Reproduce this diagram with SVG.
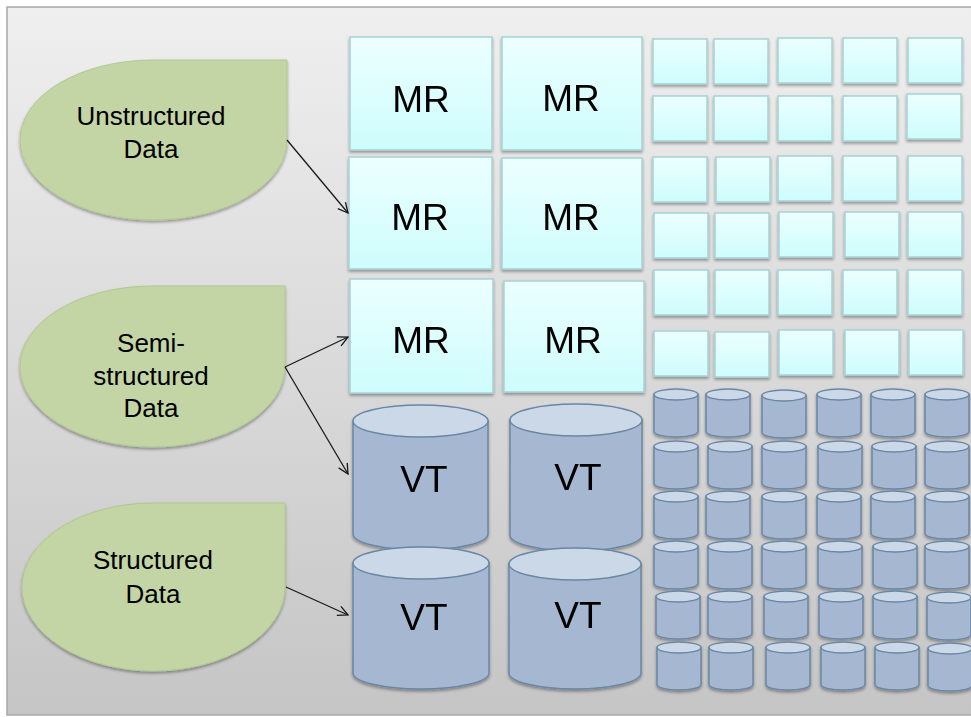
<svg xmlns="http://www.w3.org/2000/svg" xmlns:xlink="http://www.w3.org/1999/xlink" width="971" height="717" viewBox="0 0 971 717">
<style>
.drop{fill:#c4d5a5;stroke:#b2c78f;stroke-width:1}
.lbl{font-family:"Liberation Sans",Arial,sans-serif;font-size:26px;fill:#000;text-anchor:middle}
.big{font-family:"Liberation Sans",Arial,sans-serif;font-size:37px;fill:#000;text-anchor:middle}
.box{fill:url(#cyanG);stroke:#a6d2d4;stroke-width:1.5}
.cb{fill:#a6b8d1;stroke:#6a86a5;stroke-width:1.5}
.ct{fill:#cbd8e7;stroke:#6a86a5;stroke-width:1.5}
.conn{stroke:#1a1a1a;stroke-width:1.3;fill:none;marker-end:url(#arr)}
</style>
<defs>
<linearGradient id="bgG" x1="0" y1="0" x2="0" y2="1">
<stop offset="0" stop-color="#efefef"/>
<stop offset="1" stop-color="#c5c5c5"/>
</linearGradient>
<linearGradient id="cyanG" x1="0" y1="0" x2="0" y2="1">
<stop offset="0" stop-color="#ecffff"/>
<stop offset="1" stop-color="#cefcfc"/>
</linearGradient>
<filter id="sh" x="-20%" y="-20%" width="140%" height="150%">
<feDropShadow dx="0" dy="2" stdDeviation="1.5" flood-color="#000" flood-opacity="0.35"/>
</filter>
<marker id="arr" viewBox="0 0 12 12" refX="11" refY="6" markerWidth="12" markerHeight="12" markerUnits="userSpaceOnUse" orient="auto">
<path d="M1,1 L11,6 L1,11" fill="none" stroke="#1a1a1a" stroke-width="1.3"/>
</marker>
<g id="scyl">
<path class="cb" d="M0,5.5 L0,42.5 A22,5.5 0 0 0 44,42.5 L44,5.5 Z"/>
<ellipse class="ct" cx="22" cy="5.5" rx="22" ry="5.5"/>
</g>
<rect id="sbox" class="box" x="0" y="0" width="54" height="45"/>
</defs>

<rect x="7" y="7" width="975" height="708" fill="url(#bgG)" stroke="#a8a8a8" stroke-width="1.5"/>

<g id="src-unstructured">
<path class="drop" filter="url(#sh)" d="M287,60 L287,140 A133.5,80 0 0 1 153.5,220 A133.5,80 0 0 1 20,140 A133.5,80 0 0 1 153.5,60 Z"/>
<text class="lbl" x="151" y="125">Unstructured</text>
<text class="lbl" x="151" y="158">Data</text>
</g>
<g id="src-semi">
<path class="drop" filter="url(#sh)" d="M285,286 L285,366.5 A132.5,80.5 0 0 1 152.5,447 A132.5,80.5 0 0 1 20,366.5 A132.5,80.5 0 0 1 152.5,286 Z"/>
<text class="lbl" x="151" y="352">Semi-</text>
<text class="lbl" x="151" y="385">structured</text>
<text class="lbl" x="151" y="417">Data</text>
</g>
<g id="src-structured">
<path class="drop" filter="url(#sh)" d="M285,503 L285,587 A131.5,84 0 0 1 153.5,671 A131.5,84 0 0 1 22,587 A131.5,84 0 0 1 153.5,503 Z"/>
<text class="lbl" x="153" y="569">Structured</text>
<text class="lbl" x="153" y="603">Data</text>
</g>

<g id="mr1" filter="url(#sh)"><rect class="box" x="350" y="37" width="142" height="113"/><text class="big" x="421" y="112">MR</text></g>
<g id="mr2" filter="url(#sh)"><rect class="box" x="502" y="37" width="140" height="113"/><text class="big" x="571" y="111">MR</text></g>
<g id="mr3" filter="url(#sh)"><rect class="box" x="349" y="157" width="143" height="112"/><text class="big" x="420" y="230">MR</text></g>
<g id="mr4" filter="url(#sh)"><rect class="box" x="502" y="158" width="140" height="111"/><text class="big" x="571" y="230">MR</text></g>
<g id="mr5" filter="url(#sh)"><rect class="box" x="350" y="279" width="143" height="114"/><text class="big" x="421" y="353">MR</text></g>
<g id="mr6" filter="url(#sh)"><rect class="box" x="504" y="281" width="140" height="111"/><text class="big" x="573" y="353">MR</text></g>

<g id="vt1" filter="url(#sh)">
<path class="cb" d="M353,421 L353,534 A67.5,16 0 0 0 488,534 L488,421 Z"/>
<ellipse class="ct" cx="420.5" cy="421" rx="67.5" ry="16"/>
<text class="big" x="424" y="492">VT</text>
</g>
<g id="vt2" filter="url(#sh)">
<path class="cb" d="M510,420 L510,535 A66,16 0 0 0 642,535 L642,420 Z"/>
<ellipse class="ct" cx="576" cy="420" rx="66" ry="16"/>
<text class="big" x="578" y="490">VT</text>
</g>
<g id="vt3" filter="url(#sh)">
<path class="cb" d="M353,563 L353,673 A68,16 0 0 0 489,673 L489,563 Z"/>
<ellipse class="ct" cx="421" cy="563" rx="68" ry="16"/>
<text class="big" x="424" y="630">VT</text>
</g>
<g id="vt4" filter="url(#sh)">
<path class="cb" d="M509,564 L509,673 A66,16 0 0 0 641,673 L641,564 Z"/>
<ellipse class="ct" cx="575" cy="564" rx="66" ry="16"/>
<text class="big" x="578" y="628">VT</text>
</g>

<g id="small-boxes" filter="url(#sh)">
<g id="sb-1-1"><use xlink:href="#sbox" x="653" y="39"/></g>
<g id="sb-1-2"><use xlink:href="#sbox" x="714" y="39"/></g>
<g id="sb-1-3"><use xlink:href="#sbox" x="778" y="38"/></g>
<g id="sb-1-4"><use xlink:href="#sbox" x="843" y="38"/></g>
<g id="sb-1-5"><use xlink:href="#sbox" x="908" y="38"/></g>
<g id="sb-2-1"><use xlink:href="#sbox" x="653" y="96"/></g>
<g id="sb-2-2"><use xlink:href="#sbox" x="714" y="96"/></g>
<g id="sb-2-3"><use xlink:href="#sbox" x="778" y="96"/></g>
<g id="sb-2-4"><use xlink:href="#sbox" x="843" y="96"/></g>
<g id="sb-2-5"><use xlink:href="#sbox" x="907" y="94"/></g>
<g id="sb-3-1"><use xlink:href="#sbox" x="653" y="157"/></g>
<g id="sb-3-2"><use xlink:href="#sbox" x="716" y="157"/></g>
<g id="sb-3-3"><use xlink:href="#sbox" x="778" y="156"/></g>
<g id="sb-3-4"><use xlink:href="#sbox" x="843" y="156"/></g>
<g id="sb-3-5"><use xlink:href="#sbox" x="908" y="156"/></g>
<g id="sb-4-1"><use xlink:href="#sbox" x="654" y="213"/></g>
<g id="sb-4-2"><use xlink:href="#sbox" x="715" y="213"/></g>
<g id="sb-4-3"><use xlink:href="#sbox" x="779" y="212"/></g>
<g id="sb-4-4"><use xlink:href="#sbox" x="845" y="212"/></g>
<g id="sb-4-5"><use xlink:href="#sbox" x="908" y="212"/></g>
<g id="sb-5-1"><use xlink:href="#sbox" x="654" y="270"/></g>
<g id="sb-5-2"><use xlink:href="#sbox" x="715" y="270"/></g>
<g id="sb-5-3"><use xlink:href="#sbox" x="778" y="270"/></g>
<g id="sb-5-4"><use xlink:href="#sbox" x="843" y="270"/></g>
<g id="sb-5-5"><use xlink:href="#sbox" x="908" y="270"/></g>
<g id="sb-6-1"><use xlink:href="#sbox" x="654" y="331"/></g>
<g id="sb-6-2"><use xlink:href="#sbox" x="715" y="332"/></g>
<g id="sb-6-3"><use xlink:href="#sbox" x="779" y="330"/></g>
<g id="sb-6-4"><use xlink:href="#sbox" x="845" y="330"/></g>
<g id="sb-6-5"><use xlink:href="#sbox" x="909" y="330"/></g>
</g>

<g id="small-cylinders" filter="url(#sh)">
<g id="sc-1-1"><use xlink:href="#scyl" x="654" y="389"/></g>
<g id="sc-1-2"><use xlink:href="#scyl" x="706" y="389"/></g>
<g id="sc-1-3"><use xlink:href="#scyl" x="762" y="390"/></g>
<g id="sc-1-4"><use xlink:href="#scyl" x="817" y="389"/></g>
<g id="sc-1-5"><use xlink:href="#scyl" x="871" y="389"/></g>
<g id="sc-1-6"><use xlink:href="#scyl" x="925" y="389"/></g>
<g id="sc-2-1"><use xlink:href="#scyl" x="654" y="441"/></g>
<g id="sc-2-2"><use xlink:href="#scyl" x="708" y="441"/></g>
<g id="sc-2-3"><use xlink:href="#scyl" x="762" y="441"/></g>
<g id="sc-2-4"><use xlink:href="#scyl" x="818" y="441"/></g>
<g id="sc-2-5"><use xlink:href="#scyl" x="872" y="441"/></g>
<g id="sc-2-6"><use xlink:href="#scyl" x="925" y="441"/></g>
<g id="sc-3-1"><use xlink:href="#scyl" x="654" y="491"/></g>
<g id="sc-3-2"><use xlink:href="#scyl" x="706" y="491"/></g>
<g id="sc-3-3"><use xlink:href="#scyl" x="762" y="491"/></g>
<g id="sc-3-4"><use xlink:href="#scyl" x="817" y="491"/></g>
<g id="sc-3-5"><use xlink:href="#scyl" x="871" y="491"/></g>
<g id="sc-3-6"><use xlink:href="#scyl" x="925" y="491"/></g>
<g id="sc-4-1"><use xlink:href="#scyl" x="654" y="541"/></g>
<g id="sc-4-2"><use xlink:href="#scyl" x="708" y="541"/></g>
<g id="sc-4-3"><use xlink:href="#scyl" x="762" y="541"/></g>
<g id="sc-4-4"><use xlink:href="#scyl" x="818" y="541"/></g>
<g id="sc-4-5"><use xlink:href="#scyl" x="873" y="541"/></g>
<g id="sc-4-6"><use xlink:href="#scyl" x="925" y="541"/></g>
<g id="sc-5-1"><use xlink:href="#scyl" x="656" y="591"/></g>
<g id="sc-5-2"><use xlink:href="#scyl" x="708" y="591"/></g>
<g id="sc-5-3"><use xlink:href="#scyl" x="764" y="591"/></g>
<g id="sc-5-4"><use xlink:href="#scyl" x="819" y="591"/></g>
<g id="sc-5-5"><use xlink:href="#scyl" x="873" y="591"/></g>
<g id="sc-5-6"><use xlink:href="#scyl" x="927" y="592"/></g>
<g id="sc-6-1"><use xlink:href="#scyl" x="657" y="642"/></g>
<g id="sc-6-2"><use xlink:href="#scyl" x="709" y="642"/></g>
<g id="sc-6-3"><use xlink:href="#scyl" x="766" y="642"/></g>
<g id="sc-6-4"><use xlink:href="#scyl" x="821" y="642"/></g>
<g id="sc-6-5"><use xlink:href="#scyl" x="875" y="642"/></g>
<g id="sc-6-6"><use xlink:href="#scyl" x="928" y="643"/></g>
</g>

<g id="connectors">
<line class="conn" x1="287" y1="140" x2="348" y2="213"/>
<line class="conn" x1="285" y1="367" x2="348" y2="337"/>
<line class="conn" x1="285" y1="367" x2="348" y2="474"/>
<line class="conn" x1="286" y1="587" x2="348" y2="615"/>
</g>
</svg>
